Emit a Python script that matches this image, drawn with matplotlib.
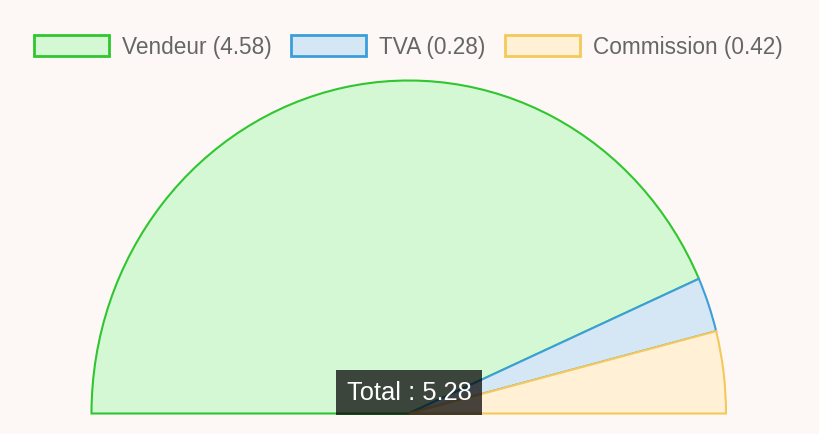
import matplotlib
matplotlib.use("Agg")
import matplotlib.pyplot as plt
from matplotlib.patches import Wedge, Patch

# data
labels = ["Vendeur", "TVA", "Commission"]
values = [4.58, 0.28, 0.42]
edge_colors = ["#2fc62f", "#3a9fd8", "#f5c85a"]
fill_colors = ["#d4f8d4", "#d5e6f4", "#fff0d6"]

plt.rcParams['font.family'] = ['Liberation Sans', 'DejaVu Sans']
bg = "#fdf8f5"

fig = plt.figure(figsize=(8.2, 4.35), dpi=100, facecolor=bg)
# axes spans the half-doughnut area (stretched slightly vertically like the original)
ax = fig.add_axes([91.5 / 820, 20.5 / 435, 634.5 / 820, 333 / 435])
ax.set_facecolor(bg)
ax.set_xlim(-1, 1)
ax.set_ylim(0, 1)
ax.axis("off")

total = sum(values)
start = 180.0
for v, ec, fc in zip(values, edge_colors, fill_colors):
    sweep = 180.0 * v / total
    w = Wedge((0, 0), 1, start - sweep, start, facecolor=fc, edgecolor=ec,
              linewidth=1.5, clip_on=False)
    ax.add_patch(w)
    start -= sweep

# legend
handles = [Patch(facecolor=fc, edgecolor=ec, linewidth=2)
           for ec, fc in zip(edge_colors, fill_colors)]
leg_labels = [f"{l} ({v:.2f})" for l, v in zip(labels, values)]
fig.legend(handles, leg_labels, loc="center", bbox_to_anchor=(408.5 / 820, 1 - 47.5 / 435),
           ncol=3, frameon=False, fontsize=16.3, labelcolor="#666666",
           handlelength=3.3, handleheight=1.1, handletextpad=0.6,
           columnspacing=0.84, borderpad=0, borderaxespad=0)

# tooltip with total
fig.text(409 / 820, 1 - 393.5 / 435, f"Total : {total:.2f}", ha="center", va="center",
         fontsize=18.4, color="white",
         bbox=dict(boxstyle="square,pad=0.4", facecolor="black", alpha=0.72,
                   edgecolor="none"))

fig.savefig("out.png", dpi=100, facecolor=bg)
